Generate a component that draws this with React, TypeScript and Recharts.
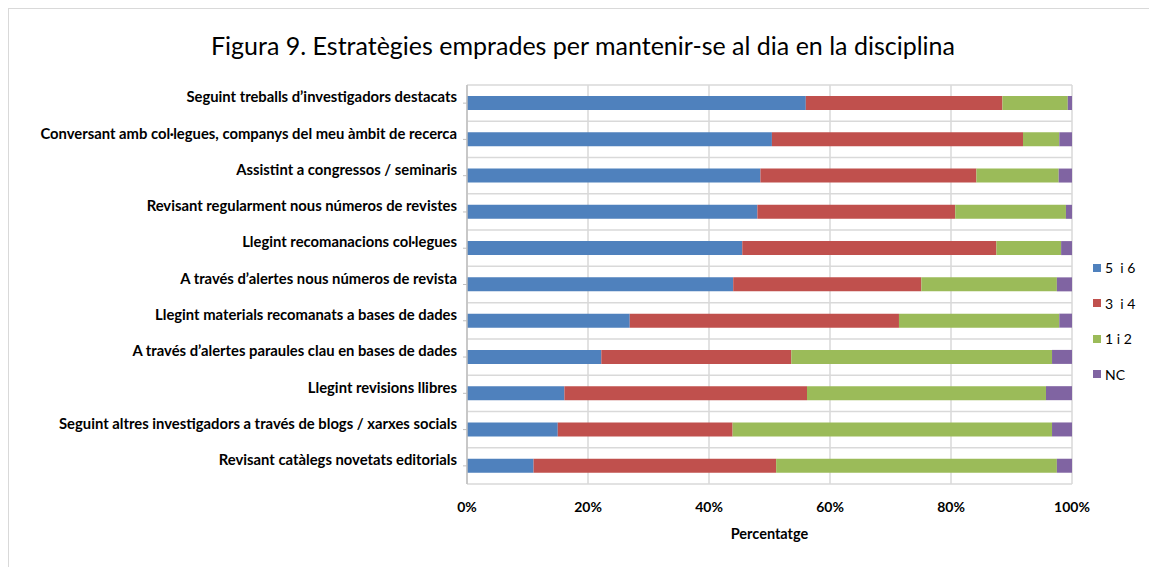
import React from 'react';
import { BarChart, Bar, XAxis, YAxis, CartesianGrid, Legend } from 'recharts';

const categories = [
  'Seguint treballs d\u2019investigadors destacats',
  'Conversant amb col·legues, companys del meu àmbit de recerca',
  'Assistint a congressos / seminaris',
  'Revisant regularment nous números de revistes',
  'Llegint recomanacions col·legues',
  'A través d\u2019alertes nous números de revista',
  'Llegint materials recomanats a bases de dades',
  'A través d\u2019alertes paraules clau en bases de dades',
  'Llegint revisions llibres',
  'Seguint altres investigadors a través de blogs / xarxes socials',
  'Revisant catàlegs novetats editorials',
];

const s56 = [56.0, 50.4, 48.5, 48.0, 45.5, 44.0, 26.9, 22.2, 16.1, 15.0, 11.0];
const s34 = [32.5, 41.5, 35.7, 32.7, 42.0, 31.1, 44.5, 31.4, 40.1, 28.9, 40.1];
const s12 = [10.8, 6.0, 13.6, 18.3, 10.7, 22.4, 26.5, 43.1, 39.5, 52.8, 46.4];
const sNC = [0.7, 2.1, 2.2, 1.0, 1.8, 2.5, 2.1, 3.3, 4.3, 3.3, 2.5];

const xTicks = [0, 20, 40, 60, 80, 100];

const series = [
  { key: 'a', name: '5  i 6', color: '#4f81bd' },
  { key: 'b', name: '3  i 4', color: '#c0504d' },
  { key: 'c', name: '1 i 2', color: '#9bbb59' },
  { key: 'd', name: 'NC', color: '#8064a2' },
];

const data = categories.map((name, i) => ({
  name,
  a: s56[i],
  b: s34[i],
  c: s12[i],
  d: sNC[i],
}));

const FONT = 'Lato, "Liberation Sans", sans-serif';

const CatTick = (props: any) => {
  const { x, y, payload } = props;
  return (
    <text x={x} y={y - 6} dy="0.355em" textAnchor="end" fontFamily={FONT} fontSize={14.8} fontWeight="bold" fill="#000">
      {payload.value}
    </text>
  );
};

const LegendBox = () => (
  <div style={{ fontFamily: FONT, fontSize: 14, color: '#000' }}>
    {series.map((s) => (
      <div key={s.key} style={{ height: 35.5, display: 'flex', alignItems: 'center' }}>
        <span style={{ width: 8, height: 8, background: s.color, display: 'inline-block', marginRight: 4 }} />
        <span style={{ whiteSpace: 'pre' }}>{s.name}</span>
      </div>
    ))}
  </div>
);

// lines between categories, taken from the plot offset the library hands over
const boundaries = (args: any) => {
  const o = args.offset || args;
  const n = categories.length;
  return Array.from({ length: n + 1 }, (_, i) => o.top + (i * o.height) / n);
};

export default function App() {
  return (
    <div
      style={{
        position: 'relative',
        width: 1148,
        height: 558,
        borderTop: '1px solid #d9d9d9',
        borderLeft: '1px solid #d9d9d9',
        background: '#fff',
      }}
    >
      <div
        style={{
          position: 'absolute',
          top: 21,
          left: 0,
          width: 1148,
          textAlign: 'center',
          fontFamily: FONT,
          fontSize: 25,
          color: '#000',
        }}
      >
        Figura 9. Estratègies emprades per mantenir-se al dia en la disciplina
      </div>
      <div style={{ position: 'absolute', top: 0, left: 0 }}>
        <BarChart
          width={1148}
          height={558}
          data={data}
          layout="vertical"
          margin={{ top: 76, right: 85, bottom: 23, left: 0 }}
          barSize={14}
        >
          <CartesianGrid
            stroke="#d9d9d9"
            strokeWidth={1.5}
            horizontalCoordinatesGenerator={boundaries}
          />
          <XAxis
            type="number"
            domain={[0, 100]}
            ticks={xTicks}
            tickFormatter={(v) => `${v}%`}
            axisLine={false}
            tickLine={false}
            tickMargin={12}
            height={60}
            tick={{ fontFamily: FONT, fontSize: 14, fontWeight: 'bold', fill: '#000' }}
            label={{
              value: 'Percentatge',
              position: 'insideBottom',
              offset: 5,
              style: { fontFamily: FONT, fontSize: 14.5, fontWeight: 'bold', fill: '#000' },
            }}
          />
          <YAxis
            type="category"
            dataKey="name"
            width={458}
            interval={0}
            axisLine={{ stroke: '#bfbfbf', strokeWidth: 1.5 }}
            tickLine={{ stroke: '#bfbfbf' }}
            tickSize={4}
            tickMargin={6}
            tick={<CatTick />}
          />
          <Legend
            layout="vertical"
            align="center"
            verticalAlign="middle"
            content={<LegendBox />}
            wrapperStyle={{ left: 1084, top: 241, width: 70 }}
          />
          {series.map((s) => (
            <Bar key={s.key} dataKey={s.key} name={s.name} stackId="s" fill={s.color} isAnimationActive={false} />
          ))}
        </BarChart>
      </div>
    </div>
  );
}
